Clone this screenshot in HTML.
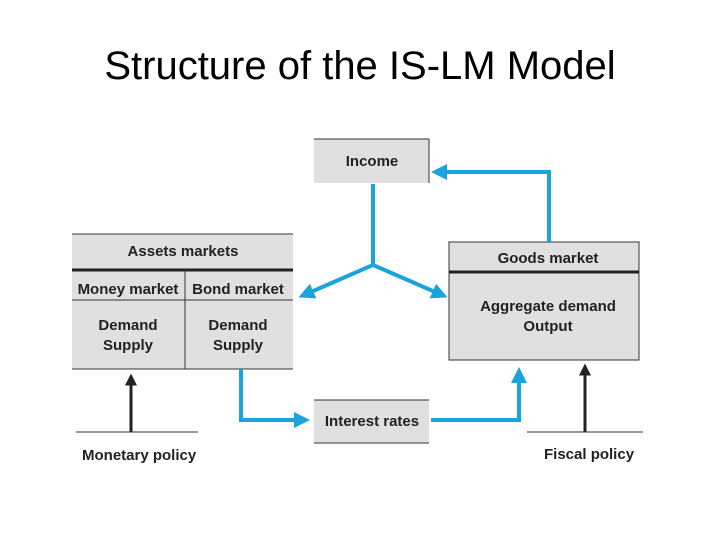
<!DOCTYPE html>
<html><head><style>
body{margin:0;width:720px;height:540px;background:#fff;overflow:hidden;font-family:"Liberation Sans",Arial,sans-serif;}
.t{position:absolute;left:0;width:720px;top:44px;text-align:center;font-size:40px;color:#000;}
svg text{font-family:"Liberation Sans",Arial,sans-serif;font-weight:bold;font-size:15px;fill:#222;}
</style></head><body>
<div class="t">Structure of the IS-LM Model</div>
<svg width="720" height="540" style="position:absolute;left:0;top:0">
<defs>
<marker id="b" markerWidth="4" markerHeight="4" refX="2.5" refY="2" orient="auto" markerUnits="strokeWidth"><path d="M0,0 L4,2 L0,4 z" fill="#1aa3dc"/></marker>
<marker id="k" markerWidth="4" markerHeight="4" refX="2.5" refY="2" orient="auto" markerUnits="strokeWidth"><path d="M0,0 L4,2 L0,4 z" fill="#222"/></marker>
</defs>
<!-- Income -->
<rect x="314" y="139" width="115" height="44" fill="#e0e0e0"/>
<line x1="314" y1="139" x2="429" y2="139" stroke="#333" stroke-width="1"/>
<line x1="429" y1="139" x2="429" y2="183" stroke="#333" stroke-width="1"/>
<text x="372" y="166" text-anchor="middle">Income</text>
<!-- Assets -->
<rect x="72" y="234" width="221" height="135" fill="#e0e0e0"/>
<line x1="72" y1="234" x2="293" y2="234" stroke="#333"/>
<line x1="72" y1="270" x2="293" y2="270" stroke="#222" stroke-width="3"/>
<line x1="72" y1="300" x2="293" y2="300" stroke="#333"/>
<line x1="72" y1="369" x2="293" y2="369" stroke="#333"/>
<line x1="185" y1="270" x2="185" y2="369" stroke="#333"/>
<text x="183" y="256" text-anchor="middle">Assets markets</text>
<text x="128" y="294" text-anchor="middle">Money market</text>
<text x="238" y="294" text-anchor="middle">Bond market</text>
<text x="128" y="330" text-anchor="middle">Demand</text>
<text x="128" y="350" text-anchor="middle">Supply</text>
<text x="238" y="330" text-anchor="middle">Demand</text>
<text x="238" y="350" text-anchor="middle">Supply</text>
<!-- Goods -->
<rect x="449" y="242" width="190" height="118" fill="#e0e0e0" stroke="#333" stroke-width="1"/>
<line x1="449" y1="272" x2="639" y2="272" stroke="#222" stroke-width="3"/>
<text x="548" y="263" text-anchor="middle">Goods market</text>
<text x="548" y="311" text-anchor="middle">Aggregate demand</text>
<text x="548" y="331" text-anchor="middle">Output</text>
<!-- Interest -->
<rect x="314" y="400" width="115" height="43" fill="#e0e0e0"/>
<line x1="314" y1="400" x2="429" y2="400" stroke="#333"/>
<line x1="314" y1="443" x2="429" y2="443" stroke="#333"/>
<text x="372" y="426" text-anchor="middle">Interest rates</text>
<!-- blue arrows -->
<g stroke="#1aa3dc" stroke-width="4" fill="none">
<polyline points="373,184 373,265 304,295" marker-end="url(#b)"/>
<polyline points="373,265 442,295" marker-end="url(#b)"/>
<polyline points="549,242 549,172 437,172" marker-end="url(#b)"/>
<polyline points="241,369 241,420 304,420" marker-end="url(#b)"/>
<polyline points="431,420 519,420 519,373" marker-end="url(#b)"/>
</g>
<!-- black -->
<g stroke="#222" stroke-width="3">
<line x1="131" y1="432" x2="131" y2="378" marker-end="url(#k)"/>
<line x1="585" y1="432" x2="585" y2="368" marker-end="url(#k)"/>
</g>
<line x1="76" y1="432" x2="198" y2="432" stroke="#333"/>
<line x1="527" y1="432" x2="643" y2="432" stroke="#333"/>
<text x="82" y="460">Monetary policy</text>
<text x="544" y="459">Fiscal policy</text>
</svg>
</body></html>
